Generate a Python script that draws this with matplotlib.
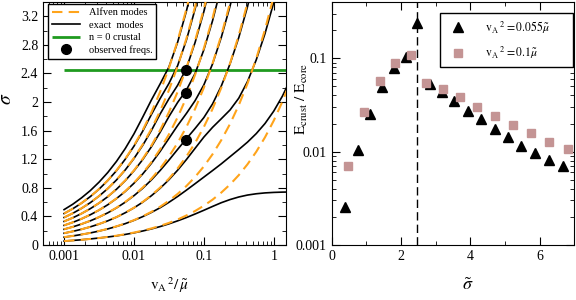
import matplotlib
matplotlib.use('Agg')
import matplotlib.pyplot as plt
from matplotlib.patches import Rectangle
from matplotlib.ticker import MultipleLocator, FuncFormatter

# left panel: mode frequencies vs v_A^2 / mu
x_grid = [0.001, 0.001334, 0.001778, 0.002371, 0.003162, 0.004217, 0.005623,
          0.007499, 0.01, 0.01334, 0.01778, 0.02371, 0.03162, 0.04217, 0.05623,
          0.07499, 0.1, 0.1334, 0.1778, 0.2371, 0.3162, 0.4217, 0.5623, 0.7499,
          1, 1.334, 1.778]

alfven1 = [0.055, 0.064, 0.073, 0.085, 0.098, 0.113, 0.130, 0.151, 0.174, 0.201, 0.232, 0.268, 0.309, 0.357, 0.413, 0.476, 0.550, 0.635, 0.734, 0.847, 0.978, 1.130, 1.305, 1.507, 1.740, 2.009, 2.320]
alfven2 = [0.110, 0.127, 0.147, 0.169, 0.196, 0.226, 0.261, 0.301, 0.348, 0.402, 0.464, 0.536, 0.619, 0.715, 0.825, 0.953, 1.100, 1.271, 1.468, 1.695, 1.957, 2.260, 2.610, 3.014, 3.480]
alfven3 = [0.165, 0.191, 0.220, 0.254, 0.294, 0.339, 0.391, 0.452, 0.522, 0.603, 0.696, 0.804, 0.928, 1.072, 1.238, 1.429, 1.651, 1.906, 2.201, 2.542, 2.935, 3.390, 3.914]
alfven4 = [0.220, 0.254, 0.294, 0.339, 0.391, 0.452, 0.522, 0.603, 0.696, 0.804, 0.928, 1.072, 1.238, 1.429, 1.650, 1.906, 2.201, 2.542, 2.935, 3.389, 3.914]
alfven5 = [0.275, 0.318, 0.367, 0.424, 0.489, 0.565, 0.652, 0.753, 0.870, 1.005, 1.160, 1.340, 1.547, 1.787, 2.063, 2.382, 2.751, 3.177, 3.669]
alfven6 = [0.330, 0.381, 0.440, 0.508, 0.587, 0.678, 0.783, 0.904, 1.044, 1.206, 1.392, 1.608, 1.857, 2.144, 2.476, 2.859, 3.301, 3.812]
alfven7 = [0.385, 0.445, 0.514, 0.593, 0.685, 0.791, 0.913, 1.055, 1.218, 1.407, 1.624, 1.876, 2.166, 2.501, 2.888, 3.335, 3.852]
alfven8 = [0.440, 0.508, 0.587, 0.678, 0.783, 0.904, 1.044, 1.205, 1.392, 1.607, 1.856, 2.144, 2.475, 2.859, 3.301, 3.812]

exact1 = [0.055, 0.064, 0.073, 0.085, 0.098, 0.112, 0.128, 0.148, 0.170, 0.196, 0.225, 0.258, 0.296, 0.338, 0.384, 0.434, 0.486, 0.540, 0.592, 0.636, 0.672, 0.699, 0.717, 0.729, 0.736, 0.740, 0.742]
exact2 = [0.110, 0.127, 0.147, 0.169, 0.195, 0.225, 0.260, 0.299, 0.345, 0.397, 0.456, 0.522, 0.597, 0.679, 0.767, 0.858, 0.950, 1.042, 1.136, 1.236, 1.336, 1.440, 1.559, 1.700, 1.873, 2.085, 2.341]
exact3 = [0.165, 0.191, 0.220, 0.254, 0.293, 0.338, 0.390, 0.451, 0.520, 0.599, 0.690, 0.794, 0.913, 1.047, 1.195, 1.353, 1.510, 1.647, 1.767, 1.890, 2.055, 2.288, 2.591, 2.958, 3.392, 3.899]
exact4 = [0.220, 0.254, 0.293, 0.338, 0.390, 0.450, 0.519, 0.599, 0.690, 0.793, 0.911, 1.043, 1.187, 1.338, 1.486, 1.631, 1.783, 1.975, 2.225, 2.535, 2.904, 3.336, 3.839]
exact5 = [0.275, 0.317, 0.366, 0.423, 0.488, 0.563, 0.650, 0.749, 0.864, 0.994, 1.143, 1.310, 1.491, 1.672, 1.840, 2.020, 2.240, 2.535, 2.906, 3.343, 3.851]
exact6 = [0.330, 0.381, 0.440, 0.508, 0.586, 0.676, 0.780, 0.900, 1.038, 1.195, 1.375, 1.578, 1.796, 1.995, 2.168, 2.400, 2.731, 3.140, 3.618]
exact7 = [0.385, 0.444, 0.513, 0.592, 0.684, 0.789, 0.910, 1.050, 1.210, 1.394, 1.603, 1.834, 2.045, 2.235, 2.470, 2.835, 3.265, 3.765]
exact8 = [0.440, 0.508, 0.586, 0.677, 0.781, 0.902, 1.040, 1.200, 1.383, 1.592, 1.827, 2.050, 2.260, 2.510, 2.866, 3.302, 3.809]
exact9 = [0.495, 0.571, 0.660, 0.761, 0.879, 1.014, 1.170, 1.349, 1.555, 1.789, 2.030, 2.255, 2.490, 2.838, 3.271, 3.774]

sigma_crust = 2.45
obs_x = [0.055, 0.055, 0.055]
obs_sigma = [2.45, 2.13, 1.47]

# right panel: energy ratio vs frequency
tri_x = [0.39, 0.75, 1.11, 1.46, 1.80, 2.15, 2.47, 2.83, 3.17, 3.53, 3.92, 4.31,
         4.70, 5.08, 5.47, 5.86, 6.26, 6.68]
tri_y = [0.00253, 0.0104, 0.0254, 0.0489, 0.0781, 0.104, 0.237, 0.0527, 0.0439,
         0.0349, 0.0275, 0.0222, 0.0175, 0.01425, 0.0116, 0.00975, 0.00815, 0.00702]
sq_x = [0.47, 0.94, 1.38, 1.82, 2.28, 2.73, 3.21, 3.70, 4.19, 4.70, 5.23, 5.74,
        6.27, 6.81]
sq_y = [0.00702, 0.0268, 0.0577, 0.090, 0.1086, 0.054, 0.0466, 0.0382, 0.0303,
        0.0241, 0.0193, 0.0157, 0.0128, 0.0107]

alfven = [alfven1, alfven2, alfven3, alfven4, alfven5, alfven6, alfven7, alfven8]
exact = [exact1, exact2, exact3, exact4, exact5, exact6, exact7, exact8, exact9]

plt.rcParams['font.family'] = ['Liberation Serif', 'DejaVu Serif']
plt.rcParams['mathtext.fontset'] = 'stix'

fig = plt.figure(figsize=(5.76, 3.0), dpi=100)
ax1 = fig.add_axes([0.0747, 0.1833, 0.4219, 0.81])
ax2 = fig.add_axes([0.5759, 0.1833, 0.4212, 0.81])

orange = '#ffa41b'
for i, ys in enumerate(alfven):
    ax1.plot(x_grid[:len(ys)], ys, color=orange, ls=(0, (5, 3)), lw=1.5, zorder=4,
             label='Alfven modes' if i == 0 else None)
for i, ys in enumerate(exact):
    ax1.plot(x_grid[:len(ys)], ys, color='k', lw=1.2, zorder=3,
             label='exact  modes' if i == 0 else None)
ax1.hlines(sigma_crust, x_grid[0], x_grid[-1], color='#1f9a1f', lw=2, zorder=2,
           label='n = 0 crustal')
ax1.plot(obs_x, obs_sigma, 'o', color='k', ms=7, zorder=5, label='observed freqs.')
ax1.set_xscale('log')
ax1.set_xlim(5e-4, 1.5)
ax1.set_ylim(0, 3.4)
ax1.yaxis.set_major_locator(MultipleLocator(0.4))
ax1.yaxis.set_minor_locator(MultipleLocator(0.2))
ax1.yaxis.set_major_formatter(FuncFormatter(lambda v, p: '%g' % round(v, 2)))
ax1.xaxis.set_major_formatter(FuncFormatter(lambda v, p: '%g' % v))
ax1.set_xlabel(r'$\mathrm{v_A}^{\,2}/\,\tilde{\mu}$', fontsize=11)
ax1.set_ylabel(r'$\tilde{\sigma}$', fontsize=14)
ax1.xaxis.set_label_coords(0.52, -0.125)
ax1.yaxis.set_label_coords(-0.11, 0.6)
ax1.legend(loc='upper left', bbox_to_anchor=(0.02, 0.99), borderaxespad=0,
           fontsize=7.5, frameon=True, fancybox=False, edgecolor='k',
           framealpha=1, labelspacing=0.3, handlelength=2.7,
           handletextpad=0.9, borderpad=0.35)

ax2.set_yscale('log')
ax2.plot(tri_x, tri_y, '^', color='k', ms=7,
         label=r'$\mathrm{v_A}^{\ 2} = 0.055\tilde{\mu}$')
ax2.plot(sq_x, sq_y, 's', color='#c49494', ms=5.5,
         label=r'$\mathrm{v_A}^{\ 2} = 0.1\tilde{\mu}$')
ax2.axvline(sigma_crust, color='k', ls=(0, (6, 3)), lw=1)
ax2.set_xlim(0, 7)
ax2.set_ylim(0.001, 0.4)
ax2.xaxis.set_major_locator(MultipleLocator(2))
ax2.xaxis.set_minor_locator(MultipleLocator(1))
ax2.yaxis.set_major_formatter(FuncFormatter(lambda v, p: '%g' % v))
ax2.set_xlabel(r'$\tilde{\sigma}$', fontsize=13)
ax2.set_ylabel(r'$\mathrm{E_{crust}}\ /\ \mathrm{E_{core}}$', fontsize=11)
ax2.xaxis.set_label_coords(0.56, -0.13)
ax2.yaxis.set_label_coords(-0.09, 0.6)

# legend box drawn by hand so it can be wider than the entries, as in the original
box = Rectangle((0.446, 0.732), 0.549, 0.223, transform=ax2.transAxes,
                facecolor='white', edgecolor='k', lw=1, zorder=6)
ax2.add_patch(box)
leg = ax2.legend(loc='center left', bbox_to_anchor=(0.446, 0.8435), borderaxespad=0,
                 fontsize=8.5, frameon=False, labelspacing=0.75, handlelength=2.0,
                 handletextpad=1.3, borderpad=0.5)
leg.set_zorder(7)

for ax in (ax1, ax2):
    ax.tick_params(which='both', direction='in', top=True, right=True, labelsize=10)
    ax.tick_params(which='major', length=6)
    ax.tick_params(which='minor', length=3)

fig.savefig('out.png', dpi=100)
